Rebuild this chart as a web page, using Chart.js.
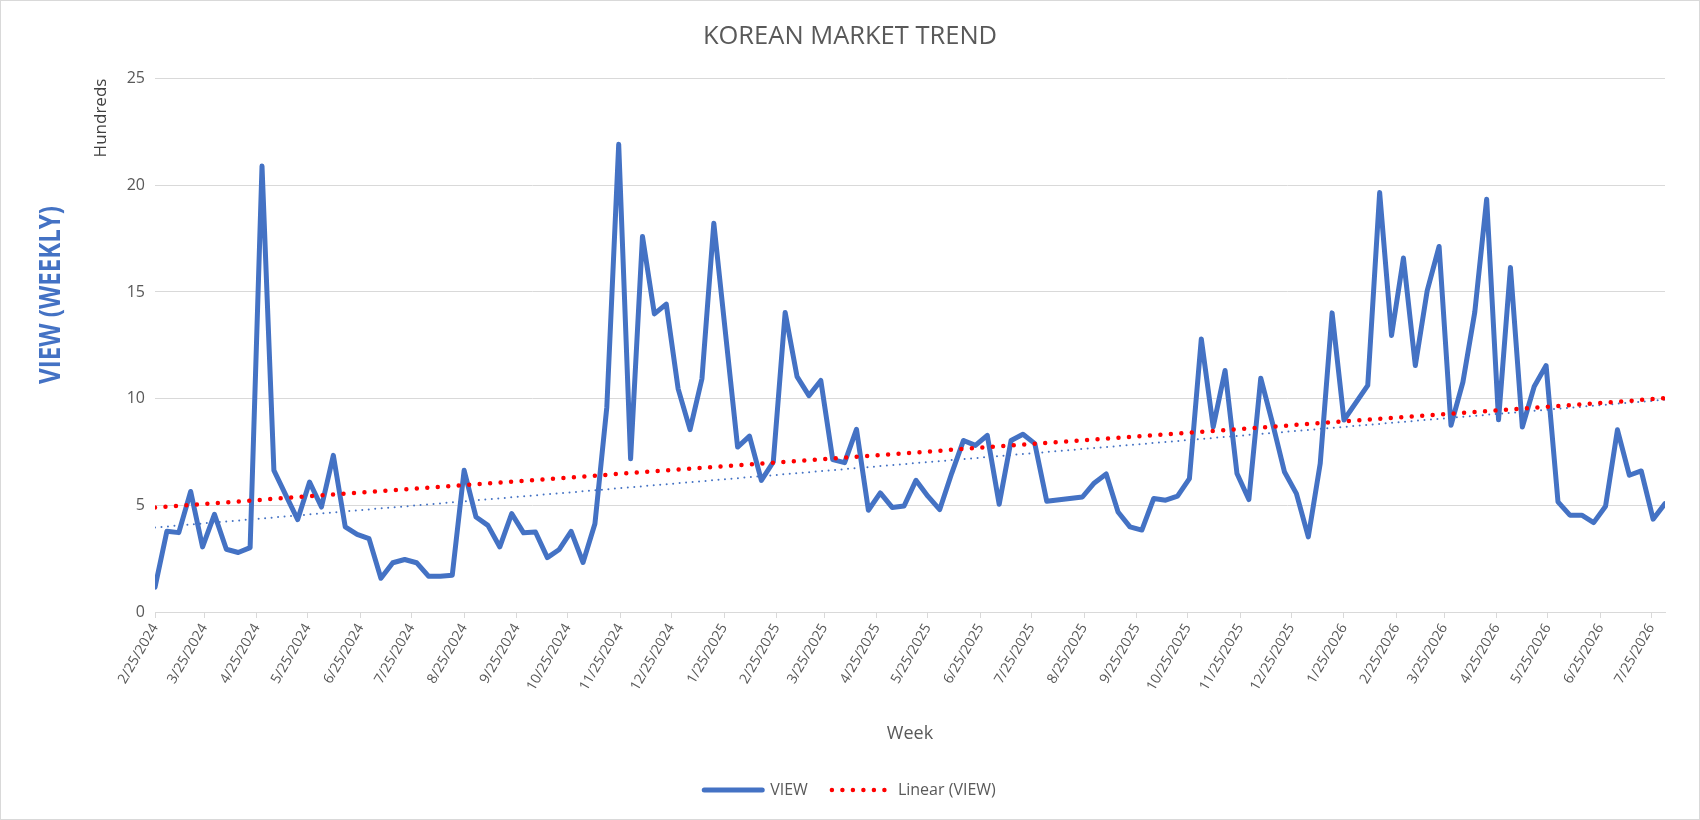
<!DOCTYPE html>
<html>
<head>
<meta charset="utf-8">
<title>KOREAN MARKET TREND</title>
<script src="https://cdn.jsdelivr.net/npm/chart.js@4.4.1/dist/chart.umd.min.js"></script>
<style>
  html, body { margin: 0; padding: 0; background: #fff; }
  #wrap { position: relative; width: 1700px; height: 820px; box-sizing: border-box; border: 1px solid #d9d9d9; }
</style>
</head>
<body>
<div id="wrap"><canvas id="chart"></canvas></div>
<script>
// weekly dates (a few weeks have no value in the source)
const weeks = [
  '2/25/2024', '3/3/2024', '3/10/2024', '3/17/2024', '3/24/2024', '3/31/2024', '4/7/2024', '4/14/2024', '4/21/2024', '4/28/2024',
  '5/5/2024', '5/12/2024', '5/19/2024', '5/26/2024', '6/2/2024', '6/9/2024', '6/16/2024', '6/23/2024', '6/30/2024', '7/7/2024',
  '7/14/2024', '7/21/2024', '7/28/2024', '8/4/2024', '8/11/2024', '8/18/2024', '8/25/2024', '9/1/2024', '9/8/2024', '9/15/2024',
  '9/22/2024', '9/29/2024', '10/6/2024', '10/13/2024', '10/20/2024', '10/27/2024', '11/3/2024', '11/10/2024', '11/17/2024', '11/24/2024',
  '12/1/2024', '12/8/2024', '12/15/2024', '12/22/2024', '12/29/2024', '1/5/2025', '1/12/2025', '1/19/2025',
  '2/2/2025', '2/9/2025', '2/16/2025', '2/23/2025', '3/2/2025', '3/9/2025', '3/16/2025', '3/23/2025', '3/30/2025', '4/6/2025', '4/13/2025',
  '4/20/2025', '4/27/2025', '5/4/2025', '5/11/2025', '5/18/2025', '5/25/2025', '6/1/2025', '6/8/2025', '6/15/2025', '6/22/2025',
  '6/29/2025', '7/6/2025', '7/13/2025', '7/20/2025', '7/27/2025', '8/3/2025',
  '8/24/2025', '8/31/2025', '9/7/2025',
  '9/14/2025', '9/21/2025', '9/28/2025', '10/5/2025', '10/12/2025', '10/19/2025', '10/26/2025', '11/2/2025', '11/9/2025', '11/16/2025',
  '11/23/2025', '11/30/2025', '12/7/2025', '12/14/2025', '12/21/2025', '12/28/2025', '1/4/2026', '1/11/2026', '1/18/2026', '1/25/2026',
  '2/8/2026', '2/15/2026', '2/22/2026', '3/1/2026', '3/8/2026', '3/15/2026', '3/22/2026', '3/29/2026', '4/5/2026',
  '4/12/2026', '4/19/2026', '4/26/2026', '5/3/2026', '5/10/2026', '5/17/2026', '5/24/2026', '5/31/2026', '6/7/2026', '6/14/2026',
  '6/21/2026', '6/28/2026', '7/5/2026', '7/12/2026', '7/19/2026', '7/26/2026', '8/2/2026'
];

// views, in hundreds
const views = [
  1.16, 3.78, 3.72, 5.65, 3.05, 4.58, 2.94, 2.79, 3.02, 20.9,
  6.64, 5.48, 4.33, 6.09, 4.92, 7.34, 3.99, 3.64, 3.44, 1.58,
  2.31, 2.46, 2.31, 1.68, 1.68, 1.72, 6.64, 4.45, 4.06, 3.05,
  4.61, 3.71, 3.75, 2.55, 2.93, 3.78, 2.32, 4.14, 9.6, 21.92,
  7.18, 17.6, 13.97, 14.43, 10.46, 8.55, 10.93, 18.22,
  7.73, 8.24, 6.17, 7.03, 14.04, 11.03, 10.14, 10.85, 7.14, 7.0, 8.56,
  4.77, 5.58, 4.9, 4.97, 6.17, 5.43, 4.8, 6.49, 8.04, 7.81,
  8.28, 5.05, 8.04, 8.33, 7.89, 5.19,
  5.39, 6.05, 6.47,
  4.69, 3.99, 3.84, 5.32, 5.24, 5.43, 6.25, 12.8, 8.67, 11.32,
  6.49, 5.27, 10.96, 8.83, 6.56, 5.55, 3.52, 6.95, 14.02, 9.0,
  10.62, 19.66, 12.96, 16.59, 11.55, 15.06, 17.13, 8.75, 10.77,
  14.05, 19.35, 9.01, 16.15, 8.67, 10.57, 11.55, 5.16, 4.54, 4.54,
  4.19, 4.96, 8.54, 6.41, 6.61, 4.35, 5.08
];

const tickLabels = [
  '2/25/2024', '3/25/2024', '4/25/2024', '5/25/2024', '6/25/2024', '7/25/2024', '8/25/2024', '9/25/2024', '10/25/2024', '11/25/2024',
  '12/25/2024', '1/25/2025', '2/25/2025', '3/25/2025', '4/25/2025', '5/25/2025', '6/25/2025', '7/25/2025', '8/25/2025', '9/25/2025',
  '10/25/2025', '11/25/2025', '12/25/2025', '1/25/2026', '2/25/2026', '3/25/2026', '4/25/2026', '5/25/2026', '6/25/2026', '7/25/2026'
];

// trendline end points
const trendWeeks = ['2/25/2024', '8/2/2026'];
const linearTrend = [4.9, 10.02];
const dottedTrend = [3.96, 9.95];

function dayIndex(s) {
  const [m, d, y] = s.split('/').map(Number);
  return (Date.UTC(y, m - 1, d) - Date.UTC(2024, 1, 25)) / 86400000;
}

const tickValues = tickLabels.map(dayIndex);

// big blue axis caption on the far left
const sideLabel = {
  id: 'sideLabel',
  afterDraw(chart) {
    const ctx = chart.ctx;
    ctx.save();
    ctx.translate(51, 294);
    ctx.rotate(-Math.PI / 2);
    ctx.scale(0.86, 1);
    ctx.font = 'bold 28px "Open Sans"';
    ctx.fillStyle = '#4472C4';
    ctx.textAlign = 'center';
    ctx.textBaseline = 'middle';
    ctx.fillText('VIEW (WEEKLY)', 0, 0);
    ctx.restore();
  }
};

Chart.defaults.font.family = '"Open Sans", sans-serif';
Chart.defaults.color = '#595959';

new Chart(document.getElementById('chart'), {
  type: 'line',
  data: {
    datasets: [
      {
        label: 'VIEW',
        data: weeks.map((w, i) => ({ x: dayIndex(w), y: views[i] })),
        borderColor: '#4472C4',
        backgroundColor: '#4472C4',
        borderWidth: 5,
        borderJoinStyle: 'round',
        borderCapStyle: 'round',
        pointRadius: 0,
        order: 3
      },
      {
        label: 'Linear (VIEW)',
        data: trendWeeks.map((w, i) => ({ x: dayIndex(w), y: linearTrend[i] })),
        borderColor: '#FF0000',
        backgroundColor: '#FF0000',
        borderWidth: 4.5,
        borderDash: [0, 10.5],
        borderCapStyle: 'round',
        pointRadius: 0,
        order: 1
      },
      {
        label: 'Trend',
        data: trendWeeks.map((w, i) => ({ x: dayIndex(w), y: dottedTrend[i] })),
        borderColor: '#4472C4',
        borderWidth: 2,
        borderDash: [0, 6.5],
        borderCapStyle: 'round',
        pointRadius: 0,
        order: 2
      }
    ]
  },
  options: {
    responsive: true,
    maintainAspectRatio: false,
    animation: false,
    devicePixelRatio: 1,
    layout: { padding: { top: 0, left: 0, right: 0, bottom: 11 } },
    scales: {
      x: {
        type: 'linear',
        min: 0,
        max: dayIndex(weeks[weeks.length - 1]),
        afterBuildTicks: (scale) => {
          scale.ticks = tickValues.map(v => ({ value: v }));
        },
        afterFit: (scale) => { scale.height = 146; },
        ticks: {
          autoSkip: false,
          minRotation: 60,
          maxRotation: 60,
          padding: 3,
          font: { size: 14 },
          color: '#595959',
          callback: (value, i) => tickLabels[i]
        },
        grid: { drawOnChartArea: false, drawTicks: true, tickLength: 6, color: '#d9d9d9' },
        border: { display: true, color: '#d9d9d9', width: 1 },
        title: { display: true, text: 'Week', font: { size: 18 }, color: '#595959', padding: { top: 0, bottom: 13 } }
      },
      y: {
        min: 0,
        max: 25,
        afterFit: (scale) => { scale.width = 154; },
        ticks: { stepSize: 5, padding: 10, font: { size: 16 }, color: '#595959' },
        grid: { color: '#d9d9d9', lineWidth: 1, drawTicks: false },
        border: { display: false },
        title: { display: true, text: 'Hundreds', align: 'end', color: '#404040', font: { size: 17 }, padding: { top: 90, bottom: 0 } }
      },
      // empty right-hand gutter so the title and legend stay centred on the canvas
      gutter: {
        position: 'right',
        display: true,
        afterFit: (scale) => { scale.width = 34; },
        ticks: { display: false },
        grid: { display: false },
        border: { display: false }
      }
    },
    plugins: {
      title: {
        display: true,
        text: 'KOREAN MARKET TREND',
        font: { size: 25.5, weight: 'normal' },
        color: '#595959',
        padding: { top: 20, bottom: 27 }
      },
      legend: {
        position: 'bottom',
        labels: {
          usePointStyle: true,
          pointStyleWidth: 58,
          font: { size: 16 },
          color: '#595959',
          padding: 24,
          // only the two named series, drawn as line samples
          generateLabels: (chart) => chart.data.datasets.slice(0, 2).map((ds, i) => ({
            text: ds.label,
            datasetIndex: i,
            fillStyle: ds.borderColor,
            strokeStyle: ds.borderColor,
            lineWidth: ds.borderWidth,
            lineDash: ds.borderDash || [],
            lineCap: ds.borderCapStyle,
            pointStyle: 'line',
            fontColor: '#595959',
            hidden: false
          }))
        }
      },
      tooltip: { enabled: false }
    }
  },
  plugins: [sideLabel]
});
</script>
</body>
</html>
